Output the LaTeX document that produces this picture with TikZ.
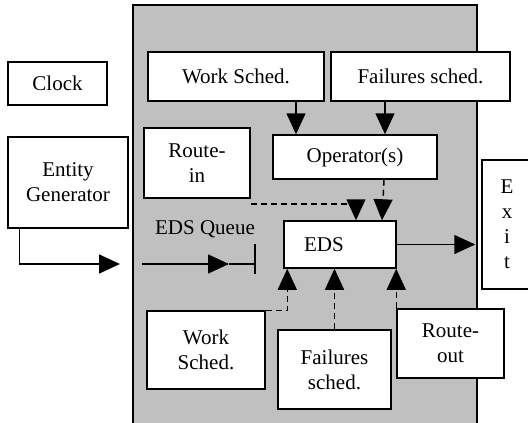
\documentclass[tikz,border=0pt]{standalone}
\usepackage{fontspec}
\setmainfont{Liberation Serif}
\usetikzlibrary{arrows.meta}
\definecolor{panelgray}{HTML}{C0C0C0}

\begin{document}
\begin{tikzpicture}[x=1pt,y=-1pt,
  box/.style={draw, fill=white, line width=1.5pt, inner sep=0pt, align=center,
    font=\fontsize{21}{25}\selectfont},
  flow/.style={line width=1.5pt, -{Triangle[length=21pt,width=19pt]}},
  dflow/.style={flow, dash pattern=on 6pt off 4pt}]
\useasboundingbox (0,0) rectangle (528,423);
\draw [line width=1.5pt, fill=panelgray] (133,5) rectangle (477,440);

% boxes outside the panel
\node [box, minimum width=99pt, minimum height=43pt] (clock) at (57.5,83.5) {Clock};
\node [box, minimum width=120pt, minimum height=91pt] (gen) at (68,182.5) {Entity\\Generator};
\node [box, minimum width=50pt, minimum height=129pt] (exit) at (507,224.5) {E\\x\\i\\t};

% boxes inside the panel
\node [box, minimum width=176pt, minimum height=49pt] (worktop) at (236,76.5) {Work Sched.};
\node [box, minimum width=179pt, minimum height=49pt] (failtop) at (420.5,76.5) {Failures sched.};
\node [box, minimum width=164pt, minimum height=44pt] (oper) at (355,157) {Operator(s)};
\node [box, minimum width=106pt, minimum height=70pt] (routein) at (197,163) {Route-\\in};
\node [box, minimum width=112pt, minimum height=47pt] (eds) at (340,244.5) {EDS\hspace*{32pt}};
\node [box, minimum width=118pt, minimum height=78pt] (worksbot) at (206,350) {Work\\Sched.};
\node [box, minimum width=113pt, minimum height=79pt] (failbot) at (334.5,369.5) {Failures\\sched.};
\node [box, minimum width=107pt, minimum height=69pt] (routeout) at (450.5,343.5) {Route-\\out};
\node [font=\fontsize{21}{25}\selectfont] (qlabel) at (205,229) {EDS Queue};

% queue
\coordinate (genin) at (120,264);
\coordinate (qin) at (142,264);
\coordinate (qmid) at (229,264);
\coordinate (qend) at (255,264);
\draw [flow] ([xshift=12pt]gen.south west) |- (genin);
\draw [flow] (qin) -- (qmid);
\draw [line width=1.5pt] (qmid) -- (qend);
\draw [line width=1.5pt] (255,244) -- (255,274);

% schedules to operator
\draw [flow] ([xshift=60pt]worktop.south) -- ([xshift=60pt]worktop.south |- oper.north);
\draw [flow] ([xshift=-35.5pt]failtop.south) -- ([xshift=-35.5pt]failtop.south |- oper.north);

% into EDS
\draw [dflow] ([yshift=-5pt]routein.south east) -| ([xshift=16pt]eds.north);
\draw [dflow] ([xshift=29pt]oper.south) -- ([xshift=42pt]eds.north);
\draw [dflow] (worksbot.north east) -| ([xshift=4pt]eds.south west);
\draw [dflow] (failbot.north) -- (failbot.north |- eds.south);
\draw [dflow] (routeout.north west) -- (routeout.north west |- eds.south);
\draw [flow, shorten >=6pt] (eds.east) -- (exit.west |- eds.east);
\end{tikzpicture}
\end{document}
